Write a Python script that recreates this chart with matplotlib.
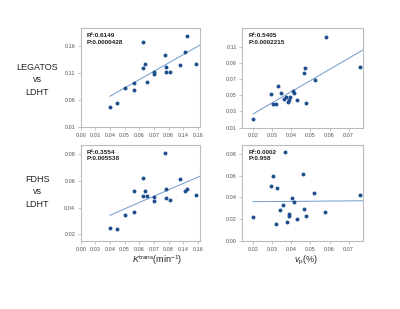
import numpy as np
import matplotlib
matplotlib.use("Agg")
import matplotlib.pyplot as plt

plt.rcParams['font.family'] = ['Liberation Sans', 'DejaVu Sans']
plt.rcParams['mathtext.fontset'] = 'custom'
plt.rcParams['mathtext.rm'] = 'Liberation Sans'
plt.rcParams['mathtext.it'] = 'Liberation Sans:italic'

# ---- data ----
ktrans_ticks = [0.00, 0.03, 0.04, 0.05, 0.06, 0.07, 0.08, 0.14, 0.16]
vp_ticks = [0.02, 0.03, 0.04, 0.05, 0.06, 0.07]

ktrans_x = [0.040, 0.0446, 0.0506, 0.0567, 0.0567, 0.0625, 0.0627, 0.064, 0.0651,
            0.0704, 0.0704, 0.0779, 0.0786, 0.0783, 0.0867, 0.128, 0.1427, 0.1449, 0.157]
legatos_k = [0.0474, 0.0537, 0.0827, 0.0922, 0.0789, 0.1195, 0.1663, 0.1264, 0.0928,
             0.1119, 0.1075, 0.1436, 0.1207, 0.1119, 0.1119, 0.1239, 0.1493, 0.1789, 0.1267]
fdhs_k = [0.025, 0.024, 0.0343, 0.0365, 0.0523, 0.0625, 0.0488, 0.0523, 0.0488,
          0.048, 0.0448, 0.081, 0.054, 0.0475, 0.046, 0.0615, 0.0525, 0.0538, 0.0498]

vp_x_top = [0.020, 0.0294, 0.0306, 0.0320, 0.0328, 0.0346, 0.0363, 0.0371, 0.0382, 0.0388,
            0.0393, 0.0407, 0.0416, 0.0429, 0.0464, 0.0472, 0.0479, 0.0522, 0.0582, 0.0758]
legatos_vp = [0.0201, 0.0518, 0.0395, 0.0395, 0.0611, 0.053, 0.0454, 0.048, 0.0412, 0.0446,
              0.048, 0.0552, 0.053, 0.0446, 0.0784, 0.0838, 0.0404, 0.0686, 0.1222, 0.085]

vp_x_bot = [0.020, 0.0294, 0.0303, 0.0318, 0.0325, 0.0342, 0.0359, 0.0366, 0.0376, 0.0388,
            0.0388, 0.0405, 0.0412, 0.0428, 0.0459, 0.0467, 0.0476, 0.0517, 0.0575, 0.0758]
fdhs_vp = [0.0217, 0.0505, 0.060, 0.0156, 0.049, 0.0285, 0.0328, 0.0815, 0.0178, 0.0248,
           0.0227, 0.0398, 0.0358, 0.0199, 0.0616, 0.0294, 0.023, 0.0438, 0.0263, 0.042]

stats = [["R²:0.6149\nP:0.0000428", "R²:0.5405\nP:0.0002215"],
         ["R²:0.3554\nP:0.005538", "R²:0.0002\nP:0.958"]]
row_labels = ["LEGATOS\nvs\nLDHT", "FDHS\nvs\nLDHT"]

# ---- scale for the uneven Ktrans axis ----
anchor_vals = np.array(ktrans_ticks + [0.18])
anchor_idx = np.arange(len(anchor_vals), dtype=float)

def fwd(x):
    return np.interp(np.asarray(x, float), anchor_vals, anchor_idx)

def inv(p):
    return np.interp(np.asarray(p, float), anchor_idx, anchor_vals)

W, H = 400, 309
fig = plt.figure(figsize=(W / 100, H / 100), dpi=100)

def rect(l, r, t, b):
    return [l / W, 1 - b / H, (r - l) / W, (b - t) / H]

ax_tl = fig.add_axes(rect(80.7, 200, 28, 127))
ax_tr = fig.add_axes(rect(242.5, 363, 28, 127.5))
ax_bl = fig.add_axes(rect(80.7, 200, 145, 241))
ax_br = fig.add_axes(rect(242.5, 363, 145, 241))

pt_color = '#1f4f8f'
ln_color = '#6f98cc'
grey = '#555555'

ax_xmax_k = inv(8.15)
ax_xmax_v = 0.0775

def style(ax):
    for s in ax.spines.values():
        s.set_color('#bbbbbb')
        s.set_linewidth(0.8)
    ax.tick_params(labelsize=4, colors='#bbbbbb', labelcolor=grey, length=2, width=0.6, pad=2)

def draw(ax, x, y, is_k, label):
    if is_k:
        ax.set_xscale('function', functions=(fwd, inv))
        coef = np.polyfit(fwd(x), y, 1)
        xs = np.array([min(x), ax_xmax_k])
        ys = np.polyval(coef, fwd(xs))
    else:
        coef = np.polyfit(x, y, 1)
        xs = np.array([min(x), ax_xmax_v])
        ys = np.polyval(coef, xs)
    ax.plot(xs, ys, color=ln_color, lw=0.7, zorder=2)
    ax.scatter(x, y, s=8, color=pt_color, zorder=3, linewidths=0)
    ax.text(0.05, 0.95, label, transform=ax.transAxes, fontsize=4.6, fontweight='bold',
            va='top', ha='left', color='#222222', linespacing=1.4)
    style(ax)

draw(ax_tl, ktrans_x, legatos_k, True, stats[0][0])
draw(ax_bl, ktrans_x, fdhs_k, True, stats[1][0])
draw(ax_tr, vp_x_top, legatos_vp, False, stats[0][1])
draw(ax_br, vp_x_bot, fdhs_vp, False, stats[1][1])

for ax in (ax_tl, ax_bl):
    ax.set_xlim(inv(-0.07), ax_xmax_k)
    ax.set_xticks(ktrans_ticks)
    ax.set_xticklabels([f"{v:.2f}" for v in ktrans_ticks])
    ax.minorticks_off()

for ax in (ax_tr, ax_br):
    ax.set_xlim(0.0145, ax_xmax_v)
    ax.set_xticks(vp_ticks)
    ax.set_xticklabels([f"{v:.2f}" for v in vp_ticks])

ax_tl.set_ylim(0.01, 0.193)
ax_tl.set_yticks([0.01, 0.06, 0.11, 0.16])
ax_tr.set_ylim(0.01, 0.134)
ax_tr.set_yticks([0.01, 0.03, 0.05, 0.07, 0.09, 0.11])
ax_bl.set_ylim(0.015, 0.087)
ax_bl.set_yticks([0.02, 0.04, 0.06, 0.08])
ax_br.set_ylim(0.0, 0.088)
ax_br.set_yticks([0.0, 0.02, 0.04, 0.06, 0.08])
for ax in (ax_tl, ax_tr, ax_bl, ax_br):
    ax.set_yticklabels([f"{v:.2f}" for v in ax.get_yticks()])

ax_bl.set_xlabel(r"$\it{K}^{\rm trans}$(min$^{-1}$)", fontsize=6.5, color='#222222')
ax_bl.xaxis.set_label_coords(0.64, -0.2)
ax_bl.xaxis.label.set_va('center')
ax_br.set_xlabel(r"$\it{v}_{\rm p}$(%)", fontsize=6.5, color='#222222')
ax_br.xaxis.set_label_coords(0.527, -0.2)
ax_br.xaxis.label.set_va('center')

fig.text(37 / W, 1 - 80 / H, row_labels[0], ha='center', va='center', fontsize=6.5,
         color='#222222', linespacing=1.5)
fig.text(37 / W, 1 - 192 / H, row_labels[1], ha='center', va='center', fontsize=6.5,
         color='#222222', linespacing=1.5)

fig.savefig("out.png", dpi=100)
